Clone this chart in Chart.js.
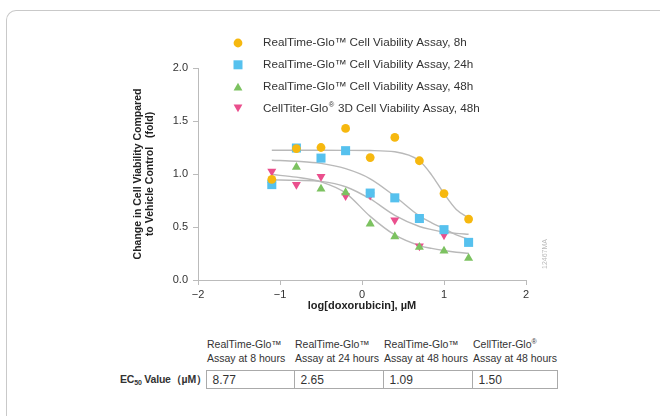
<!DOCTYPE html>
<html>
<head>
<meta charset="utf-8">
<script src="https://cdn.jsdelivr.net/npm/chart.js@4.4.1/dist/chart.umd.min.js"></script>
<style>
  body { margin: 0; background: #fff; color: #333;
         font-family: "Liberation Sans", Arial, sans-serif; }
  #frame { position: absolute; left: 6px; top: 10px; width: 720px; height: 480px;
           border-top: 1px solid #c9c9c9; border-left: 1px solid #c9c9c9;
           border-top-left-radius: 10px; }
  #wrap { position: absolute; left: 0; top: 0; width: 660px; height: 320px; }
  #ec50 { position: absolute; left: 120px; top: 337px; border-collapse: collapse;
          table-layout: fixed; width: 437px; }
  #ec50 th { font-weight: normal; text-align: left; vertical-align: top; white-space: nowrap;
             font-size: 10.5px; line-height: 14px; padding: 0 0 5px 1px; color: #333; overflow: visible; }
  #ec50 th sup { font-size: 7px; line-height: 0; vertical-align: 4px; }
  #ec50 td { height: 17px; padding: 0 0 0 6px; font-size: 12px; border: 1px solid #aaa;
             color: #333; white-space: nowrap; }
  #ec50 td.lbl { border: none; font-weight: bold; text-align: right; padding: 0 12px 0 0;
                 font-size: 10.5px; letter-spacing: -0.2px; }
  sub { font-size: 7px; line-height: 0; vertical-align: -2px; }
</style>
</head>
<body>
<div id="frame"></div>
<div id="wrap"><canvas id="chart"></canvas></div>
<table id="ec50">
  <colgroup>
    <col style="width:86px"><col style="width:88px"><col style="width:89px"><col style="width:89px"><col style="width:85px">
  </colgroup>
  <tr id="ec50head">
    <th style="padding:0"></th>
  </tr>
  <tr id="ec50row">
    <td class="lbl">EC<sub>50</sub> Value（µM）</td>
  </tr>
</table>
<script>
// log[doxorubicin] (µM) for every measured point
const doses = [-1.1, -0.8, -0.5, -0.2, 0.1, 0.4, 0.7, 1.0, 1.3];

const rtg8h  = [0.95, 1.24, 1.25, 1.43, 1.155, 1.345, 1.125, 0.815, 0.575];
const rtg24h = [0.90, 1.245, 1.15, 1.22, 0.82, 0.775, 0.58, 0.475, 0.355];
const rtg48h = [0.94, 1.065, 0.86, 0.825, 0.53, 0.41, 0.31, 0.275, 0.205];
const ctg48h = [1.025, 0.90, 0.975, 0.795, 0.80, 0.565, 0.32, 0.425, null];

// fitted curves
const fitX     = [-1.1, -0.8, -0.5, -0.2, 0.1, 0.4, 0.7, 0.85, 1.0, 1.15, 1.3];
const fit8h    = [1.224, 1.224, 1.224, 1.223, 1.221, 1.21, 1.125, 0.99, 0.815, 0.665, 0.585];
const fit24h   = [1.13, 1.12, 1.10, 1.05, 0.955, 0.79, 0.605, 0.54, 0.485, 0.425, 0.385];
const fit48h   = [0.995, 0.97, 0.925, 0.82, 0.60, 0.425, 0.325, 0.298, 0.278, 0.262, 0.252];
const fitCtg   = [0.945, 0.94, 0.93, 0.88, 0.765, 0.61, 0.505, 0.475, 0.452, 0.44, 0.432];

const seriesLabels = [
    "RealTime-Glo™ Cell Viability Assay, 8h",
    "RealTime-Glo™ Cell Viability Assay, 24h",
    "RealTime-Glo™ Cell Viability Assay, 48h",
    "CellTiter-Glo® 3D Cell Viability Assay, 48h",
];
const tableHeads = [
    ["RealTime-Glo™", "Assay at 8 hours"],
    ["RealTime-Glo™", "Assay at 24 hours"],
    ["RealTime-Glo™", "Assay at 48 hours"],
    ["CellTiter-Glo®", "Assay at 48 hours"],
];
const ec50Values = ["8.77", "2.65", "1.09", "1.50"];

const colors = ["#f6b80f", "#56c1ee", "#7cc260", "#ea4f8d"];
const FONT = '"Liberation Sans", Arial, sans-serif';

const toPoints = (xs, ys) => xs.map((x, i) => ({ x, y: ys[i] })).filter(p => p.y !== null);

const pointSet = (i, ys, style, radius, rotation) => ({
    label: seriesLabels[i],
    data: toPoints(doses, ys),
    pointStyle: style,
    pointRadius: radius,
    pointRotation: rotation || 0,
    backgroundColor: colors[i],
    borderColor: colors[i],
    borderWidth: 0,
    showLine: false,
    order: 0,
});

const curveSet = (ys) => ({
    label: "fit",
    data: toPoints(fitX, ys),
    showLine: true,
    pointRadius: 0,
    borderColor: "#b9b9b9",
    borderWidth: 1.4,
    cubicInterpolationMode: "monotone",
    fill: false,
    order: 10,
});

// EC50 table
const head = document.getElementById("ec50head");
tableHeads.forEach(([a, b]) => {
    const th = document.createElement("th");
    th.innerHTML = a.replace("®", "<sup>®</sup>") + "<br>" + b;
    head.appendChild(th);
});
const row = document.getElementById("ec50row");
ec50Values.forEach(v => {
    const td = document.createElement("td");
    td.textContent = v;
    row.appendChild(td);
});

// legend text, with ® set small and raised
function drawLabel(ctx, text, x, y) {
    const parts = text.split("®");
    ctx.font = "11.7px " + FONT;
    ctx.fillText(parts[0], x, y);
    if (parts.length < 2) return;
    x += ctx.measureText(parts[0]).width;
    ctx.font = "7.5px " + FONT;
    ctx.fillText("®", x + 0.5, y - 3);
    x += ctx.measureText("®").width + 1;
    ctx.font = "11.7px " + FONT;
    ctx.fillText(parts[1], x, y);
}

// draws the stacked legend and the small figure code
const sideNotes = {
    id: "sideNotes",
    afterDraw(chart) {
        const ctx = chart.ctx;
        ctx.save();
        chart.data.datasets.forEach((ds, i) => {
            if (ds.label === "fit") return;
            const y = 43 + i * 21.8;
            const x = 238;
            ctx.fillStyle = ds.backgroundColor;
            ctx.beginPath();
            if (ds.pointStyle === "circle") {
                ctx.arc(x, y, 4.4, 0, Math.PI * 2);
            } else if (ds.pointStyle === "rect") {
                ctx.rect(x - 4.5, y - 4.5, 9, 9);
            } else if (ds.pointRotation === 180) {
                ctx.moveTo(x - 4.4, y - 3.8);
                ctx.lineTo(x + 4.4, y - 3.8);
                ctx.lineTo(x, y + 3.8);
            } else {
                ctx.moveTo(x - 4.4, y + 3.8);
                ctx.lineTo(x + 4.4, y + 3.8);
                ctx.lineTo(x, y - 3.8);
            }
            ctx.closePath();
            ctx.fill();
            ctx.fillStyle = "#333";
            ctx.textBaseline = "middle";
            ctx.textAlign = "left";
            drawLabel(ctx, ds.label, 263, y);
        });
        ctx.translate(545, 254);
        ctx.rotate(-Math.PI / 2);
        ctx.fillStyle = "#bbb";
        ctx.font = "7px " + FONT;
        ctx.textAlign = "center";
        ctx.fillText("12467MA", 0, 0);
        ctx.restore();
    },
};

new Chart(document.getElementById("chart"), {
    type: "scatter",
    data: {
        datasets: [
            pointSet(0, rtg8h, "circle", 4.4),
            pointSet(1, rtg24h, "rect", 6.4),
            pointSet(2, rtg48h, "triangle", 5.2),
            pointSet(3, ctg48h, "triangle", 5.2, 180),
            curveSet(fit8h),
            curveSet(fit24h),
            curveSet(fit48h),
            curveSet(fitCtg),
        ],
    },
    options: {
        responsive: true,
        maintainAspectRatio: false,
        animation: false,
        events: [],
        layout: { padding: { left: 125, top: 68, right: 134, bottom: 0 } },
        plugins: {
            legend: { display: false },
            tooltip: { enabled: false },
        },
        scales: {
            x: {
                type: "linear",
                min: -2,
                max: 2,
                afterFit: (scale) => { scale.height = 40; },
                ticks: {
                    stepSize: 1,
                    padding: 3,
                    color: "#333",
                    font: { family: FONT, size: 11 },
                    callback: (v) => String(v).replace("-", "\u2212"),
                },
                grid: { drawOnChartArea: false, tickLength: 5, color: "#bbb" },
                border: { color: "#bbb" },
                title: {
                    display: true,
                    text: "log[doxorubicin], µM",
                    color: "#222",
                    font: { family: FONT, size: 11, weight: "bold", lineHeight: 1.1 },
                    padding: { top: 0, bottom: 8 },
                },
            },
            y: {
                min: 0,
                max: 2,
                afterFit: (scale) => { scale.width = 73; },
                ticks: {
                    stepSize: 0.5,
                    padding: 5,
                    color: "#333",
                    font: { family: FONT, size: 11 },
                    callback: (v) => v.toFixed(1),
                },
                grid: { drawOnChartArea: false, tickLength: 5, color: "#bbb" },
                border: { color: "#bbb" },
                title: {
                    display: true,
                    text: ["Change in Cell Viability Compared", "to Vehicle Control   (fold)"],
                    color: "#222",
                    font: { family: FONT, size: 10.5, weight: "bold", lineHeight: 1.15 },
                    padding: { top: 7, bottom: 0 },
                },
            },
        },
    },
    plugins: [sideNotes],
});
</script>
</body>
</html>
